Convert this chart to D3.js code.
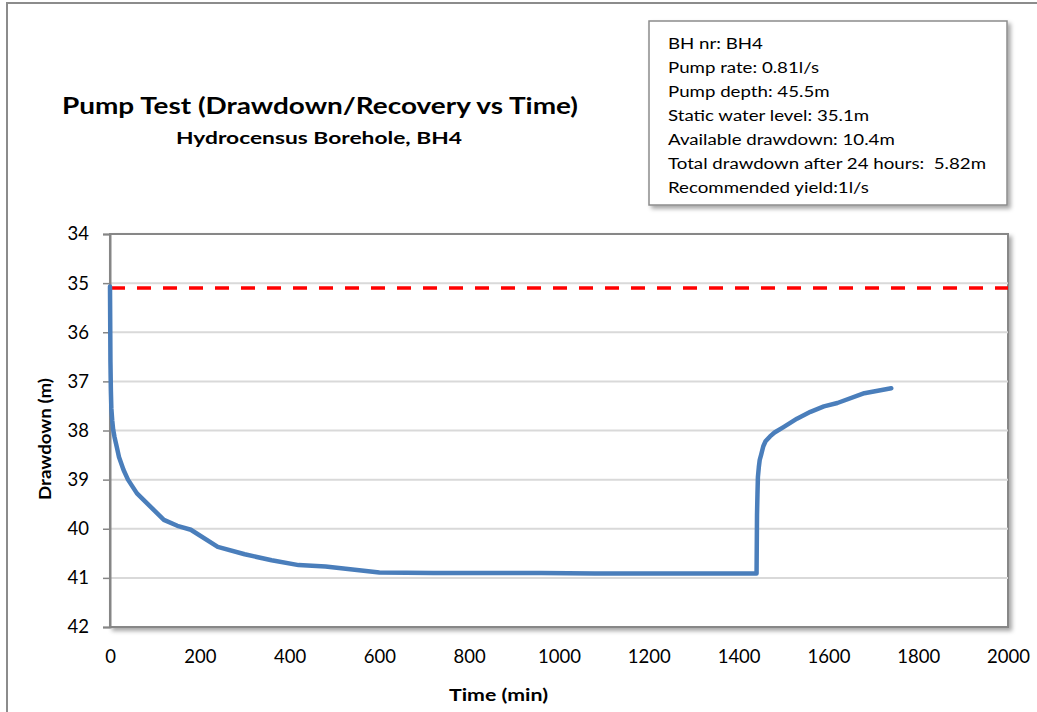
<!DOCTYPE html>
<html>
<head>
<meta charset="utf-8">
<script src="https://cdn.jsdelivr.net/npm/d3@7"></script>
<style>
  html, body { margin: 0; padding: 0; background: #fff; }
  svg { display: block; }
  text { font-family: Lato, "Open Sans", sans-serif; fill: #000; }
</style>
</head>
<body>
<svg id="chart" width="1037" height="712"></svg>
<script>
// Pumping phase: elapsed time (min) and water level below ground (m)
const pumpTime  = [0, 1, 2, 3, 5, 7, 10, 15, 20, 30, 40, 60, 90, 120, 150, 180, 240, 300, 360, 420, 480, 540, 600, 720, 840, 960, 1080, 1200, 1320, 1440];
const pumpLevel = [35.07, 36.6, 37.2, 37.55, 37.8, 37.98, 38.13, 38.33, 38.54, 38.8, 39.0, 39.28, 39.55, 39.82, 39.94, 40.02, 40.37, 40.52, 40.64, 40.74, 40.77, 40.83, 40.89, 40.9, 40.9, 40.9, 40.91, 40.91, 40.91, 40.91];

// Recovery phase after the pump was switched off at 1440 min
const recoveryTime  = [1441, 1442, 1443, 1445, 1447, 1450, 1455, 1460, 1470, 1480, 1500, 1530, 1560, 1590, 1620, 1680, 1740];
const recoveryLevel = [39.72, 39.3, 38.95, 38.75, 38.6, 38.5, 38.32, 38.22, 38.12, 38.04, 37.93, 37.76, 37.62, 37.51, 37.44, 37.24, 37.14];

// Static water level reference line
const staticTime  = [0, 2000];
const staticLevel = [35.1, 35.1];

const xTicks = [0, 200, 400, 600, 800, 1000, 1200, 1400, 1600, 1800, 2000];
const yTicks = [34, 35, 36, 37, 38, 39, 40, 41, 42];

const infoLines = [
  "BH nr: BH4",
  "Pump rate: 0.81l/s",
  "Pump depth: 45.5m",
  "Static water level: 35.1m",
  "Available drawdown: 10.4m",
  "Total drawdown after 24 hours:\u00a0 5.82m",
  "Recommended yield:1l/s"
];

const titleText = "Pump Test (Drawdown/Recovery vs Time)";
const subtitleText = "Hydrocensus Borehole, BH4";
const xTitle = "Time (min)";
const yTitle = "Drawdown (m)";

const svg = d3.select("#chart");
const W = 1037, H = 712;
const plot = { left: 110, top: 234, right: 1008, bottom: 627 };

const x = d3.scaleLinear().domain([0, 2000]).range([plot.left, plot.right]);
const y = d3.scaleLinear().domain([34, 42]).range([plot.top, plot.bottom]);

// soft drop shadow used by the plot frame and the info box
const defs = svg.append("defs");
const sh = defs.append("filter").attr("id", "shadow")
  .attr("x", "-5%").attr("y", "-5%").attr("width", "112%").attr("height", "115%");
sh.append("feDropShadow").attr("dx", 3).attr("dy", 3).attr("stdDeviation", 2.2)
  .attr("flood-color", "#000").attr("flood-opacity", 0.35);

// outer chart frame
svg.append("rect")
  .attr("x", 7).attr("y", 3).attr("width", W + 20).attr("height", H + 20)
  .attr("fill", "#fff").attr("stroke", "#8c8c8c").attr("stroke-width", 2);

// plot area with shadow
svg.append("rect")
  .attr("x", plot.left).attr("y", plot.top)
  .attr("width", plot.right - plot.left).attr("height", plot.bottom - plot.top)
  .attr("fill", "#fff").attr("stroke", "#878787").attr("stroke-width", 2)
  .attr("filter", "url(#shadow)");

// horizontal gridlines
svg.append("g").selectAll("line")
  .data(yTicks.filter(d => d > 34 && d < 42))
  .join("line")
  .attr("x1", plot.left).attr("x2", plot.right)
  .attr("y1", d => y(d)).attr("y2", d => y(d))
  .attr("stroke", "#d9d9d9").attr("stroke-width", 2);

// y axis (left, with outward ticks)
const yAxis = svg.append("g")
  .attr("transform", `translate(${plot.left},0)`)
  .call(d3.axisLeft(y).tickValues(yTicks).tickSize(7).tickPadding(14).tickFormat(d3.format("d")));
yAxis.select(".domain").attr("stroke", "#868686").attr("stroke-width", 2);
yAxis.selectAll(".tick line").attr("stroke", "#868686").attr("stroke-width", 1.5);
yAxis.selectAll(".tick text")
  .attr("font-family", "Lato, sans-serif").attr("font-size", 18.5).attr("fill", "#000");

// x axis labels (no tick marks)
const xAxis = svg.append("g")
  .attr("transform", `translate(0,${plot.bottom})`)
  .call(d3.axisBottom(x).tickValues(xTicks).tickSize(0).tickPadding(23).tickFormat(d3.format("d")));
xAxis.select(".domain").remove();
xAxis.selectAll(".tick text")
  .attr("font-family", "Lato, sans-serif").attr("font-size", 18.5).attr("fill", "#000");

// static water level (dashed red)
const staticData = staticTime.map((t, i) => [t, staticLevel[i]]);
svg.append("path")
  .datum(staticData)
  .attr("d", d3.line().x(d => x(d[0])).y(d => y(d[1])))
  .attr("fill", "none").attr("stroke", "#ff0000").attr("stroke-width", 3.5)
  .attr("stroke-dasharray", "14,12").attr("stroke-dashoffset", -1);

// drawdown + recovery curve
const series = pumpTime.map((t, i) => [t, pumpLevel[i]])
  .concat(recoveryTime.map((t, i) => [t, recoveryLevel[i]]));
svg.append("path")
  .datum(series)
  .attr("d", d3.line().x(d => x(d[0])).y(d => y(d[1])))
  .attr("fill", "none").attr("stroke", "#4a7ebb").attr("stroke-width", 4.5)
  .attr("stroke-linejoin", "round").attr("stroke-linecap", "round");

// helper: stretch a text element horizontally to a given width
function fit(sel, width) {
  sel.attr("textLength", width).attr("lengthAdjust", "spacingAndGlyphs");
  return sel;
}

// titles
fit(svg.append("text")
  .attr("x", 320).attr("y", 114).attr("text-anchor", "middle")
  .attr("font-weight", "bold").attr("font-size", 22.5)
  .text(titleText), 516);
fit(svg.append("text")
  .attr("x", 319).attr("y", 144).attr("text-anchor", "middle")
  .attr("font-weight", "bold").attr("font-size", 17)
  .text(subtitleText), 286);

// axis titles
fit(svg.append("text")
  .attr("x", 498.5).attr("y", 701).attr("text-anchor", "middle")
  .attr("font-weight", "bold").attr("font-size", 17)
  .text(xTitle), 99);
fit(svg.append("text")
  .attr("transform", "translate(51,439) rotate(-90)")
  .attr("text-anchor", "middle")
  .attr("font-weight", "bold").attr("font-size", 17)
  .text(yTitle), 122);

// info box
const box = { x: 649, y: 21, w: 358, h: 184 };
svg.append("rect")
  .attr("x", box.x).attr("y", box.y).attr("width", box.w).attr("height", box.h)
  .attr("fill", "#fff").attr("stroke", "#8c8c8c").attr("stroke-width", 1.5)
  .attr("filter", "url(#shadow)");
const info = svg.append("g");
const infoText = info.selectAll("text").data(infoLines).join("text")
  .attr("x", 668).attr("y", (d, i) => 49 + i * 24)
  .attr("font-size", 15.5)
  .text(d => d);
// widen the block uniformly so the longest line spans the box
const natural = infoText.nodes().map(n => n.getComputedTextLength());
const k = 318 / d3.max(natural);
infoText.each(function (d, i) { fit(d3.select(this), natural[i] * k); });
</script>
</body>
</html>
